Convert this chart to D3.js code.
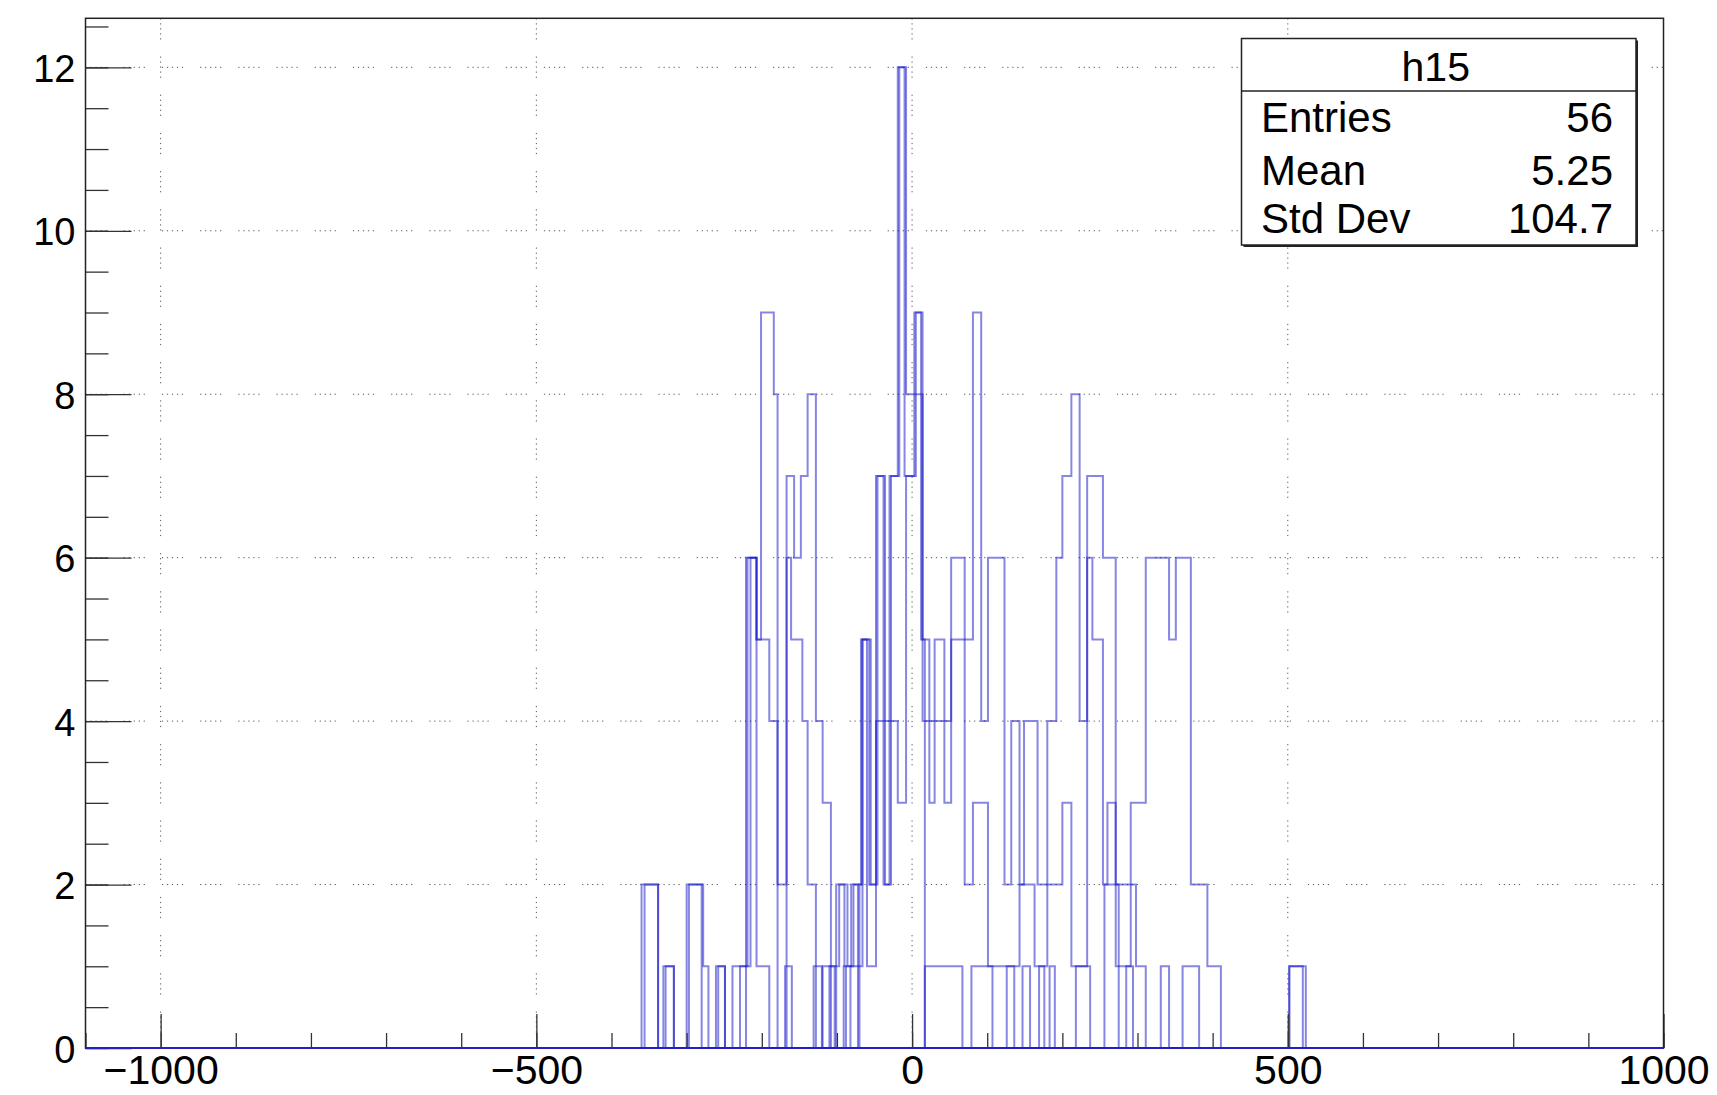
<!DOCTYPE html>
<html><head><meta charset="utf-8">
<script src="https://cdn.jsdelivr.net/npm/d3@7"></script>
<style>
body{margin:0;background:#fff;}
svg{display:block;}
text{font-family:"Liberation Sans",Arial,Helvetica,sans-serif;fill:#000;}
</style>
</head><body>
<svg id="chart" width="1717" height="1095"></svg>
<script>
// ---- axis setup ----
const xDomain = [-1100, 1000];
const yDomain = [0, 12.6];
const xMajorTicks = [-1000, -500, 0, 500, 1000];
const xMinorTicks = [-1100,-1000,-900,-800,-700,-600,-500,-400,-300,-200,-100,0,100,200,300,400,500,600,700,800,900,1000];
const yMajorTicks = [0, 2, 4, 6, 8, 10, 12];
const yMinorTicks = [0,0.5,1,1.5,2,2.5,3,3.5,4,4.5,5,5.5,6,6.5,7,7.5,8,8.5,9,9.5,10,10.5,11,11.5,12,12.5];

// ---- stats box ----
const statsTitle = "h15";
const statsLabels = ["Entries", "Mean", "Std Dev"];
const statsValues = ["56", "5.25", "104.7"];

// ---- histogram step outlines (bin edges and bin contents) ----
const edgesA = [-360,-338,-331,-317,-300,-278,-271,-261,-249,-239,-219,-207,-201,-184,-179,-167,-157,-148,-139,-128,-119,-108,-101,-86,-81,-68,-57,-48,-36,-30,-19,-8,3,14,23,30,43,52,70,81,92,101,123,132,143,149,167,180,192,200,212,223,233,254,271,291,311,342,351,371,393,411,502,524];
const countsA = [2,0,1,0,2,1,0,1,0,1,6,5,9,8,2,7,6,7,8,4,3,0,2,1,2,5,2,7,4,7,12,8,9,5,4,5,4,6,5,9,4,6,2,4,2,4,2,4,6,7,8,4,7,6,2,3,6,5,6,2,1,0,1];

const edgesB = [-356,-338,-328,-317,-297,-280,-258,-249,-229,-215,-207,-190,-179,-167,-161,-146,-139,-128,-119,-97,-90,-78,-72,-66,-60,-48,-36,-30,-19,-8,3,14,23,30,43,52,70,81,92,101,123,143,163,180,192,200,212,223,233,240,254,260,271,291,298,311,331,342,360,382];
const countsB = [2,0,1,0,2,0,1,0,1,6,5,4,0,6,5,4,2,0,1,2,1,2,1,5,1,4,2,4,3,7,8,4,3,4,3,5,2,3,3,1,1,2,1,2,2,3,1,1,6,5,2,3,1,2,1,0,1,0,1];

const edgesC = [-221,-207,-190,-169,-160,-131,-120,-110,-103,-91,-88,-82,-72,17,67,79,107,126,136,147,157,169,176,183,190,218,237,256,275,285,294,306];
const countsC = [6,1,0,1,0,1,0,1,0,1,0,1,0,1,0,1,0,1,0,1,0,1,0,1,0,1,0,2,0,1,0];

const edgesD = [-70,-66,-55,-46,-38,-28,-17,-10,5,12,17];
const countsD = [2,5,2,7,2,7,12,7,9,5];

const edgesE = [502,520];
const countsE = [1];

const series = [[edgesA, countsA], [edgesB, countsB], [edgesC, countsC], [edgesD, countsD], [edgesE, countsE]];

// ---- layout ----
const svg = d3.select("#chart");
const x = d3.scaleLinear().domain(xDomain).range([85.5, 1663.5]);
const y = d3.scaleLinear().domain(yDomain).range([1048, 18.3]);

// grid
const gridDash = "1.2,3.8,1.2,3.8,1.2,3.8,1.2,3.8,1.2,17";
const grid = svg.append("g").attr("stroke", "#555").attr("stroke-width", 1).attr("stroke-dasharray", gridDash);
grid.selectAll(".gx").data(xMajorTicks).join("line")
  .attr("x1", d => x(d)).attr("x2", d => x(d)).attr("y1", y(yDomain[1])).attr("y2", y(0));
grid.selectAll(".gy").data(yMajorTicks).join("line")
  .attr("x1", x(xDomain[0])).attr("x2", x(xDomain[1])).attr("y1", d => y(d)).attr("y2", d => y(d));

// histograms
function stepPoints(edges, counts) {
  const pts = [[xDomain[0], 0], [edges[0], 0]];
  counts.forEach((c, i) => { pts.push([edges[i], c]); pts.push([edges[i + 1], c]); });
  pts.push([edges[edges.length - 1], 0]);
  pts.push([xDomain[1], 0]);
  return pts;
}
const line = d3.line().x(d => x(d[0])).y(d => y(d[1]));
svg.append("g").selectAll("path").data(series).join("path")
  .attr("d", d => line(stepPoints(d[0], d[1])))
  .attr("fill", "none")
  .attr("stroke", "#1010c8")
  .attr("stroke-opacity", 0.5)
  .attr("stroke-width", 2);

// ticks
const tickColor = "#333";
function styleTicks(g) { g.select(".domain").remove(); g.selectAll("line").attr("stroke", tickColor).attr("stroke-width", 1.3); g.selectAll("text").remove(); }
svg.append("g").attr("transform", `translate(${x(xDomain[0])},0)`)
  .call(d3.axisRight(y).tickValues(yMajorTicks).tickSize(46)).call(styleTicks);
svg.append("g").attr("transform", `translate(${x(xDomain[0])},0)`)
  .call(d3.axisRight(y).tickValues(yMinorTicks).tickSize(23)).call(styleTicks);
svg.append("g").attr("transform", `translate(0,${y(0)})`)
  .call(d3.axisTop(x).tickValues(xMajorTicks).tickSize(34)).call(styleTicks);
svg.append("g").attr("transform", `translate(0,${y(0)})`)
  .call(d3.axisTop(x).tickValues(xMinorTicks).tickSize(15)).call(styleTicks);

// labels
const yLab = svg.append("g").attr("transform", `translate(${x(xDomain[0])},0)`)
  .call(d3.axisLeft(y).tickValues(yMajorTicks).tickSize(0).tickPadding(10));
yLab.select(".domain").remove();
yLab.selectAll("text").attr("font-size", 38).attr("font-family", '"Liberation Sans", Arial, sans-serif').attr("fill", "#000").attr("dy", "0.37em");

const fmtX = d => d < 0 ? "\u2212" + Math.abs(d) : String(d);
const xLab = svg.append("g").attr("transform", `translate(0,${y(0)})`)
  .call(d3.axisBottom(x).tickValues(xMajorTicks).tickSize(0).tickPadding(7).tickFormat(fmtX));
xLab.select(".domain").remove();
xLab.selectAll("text").attr("font-size", 41).attr("font-family", '"Liberation Sans", Arial, sans-serif').attr("fill", "#000");

// frame
svg.append("rect")
  .attr("x", x(xDomain[0])).attr("y", y(yDomain[1]))
  .attr("width", x(xDomain[1]) - x(xDomain[0])).attr("height", y(0) - y(yDomain[1]))
  .attr("fill", "none").attr("stroke", "#222").attr("stroke-width", 1.5);
// histogram baseline drawn over the frame bottom
svg.append("line").attr("x1", x(xDomain[0])).attr("x2", x(xDomain[1])).attr("y1", y(0)).attr("y2", y(0))
  .attr("stroke", "#2020c0").attr("stroke-width", 2.2);

// stats box
const sb = {x0: 1241.5, y0: 38.5, x1: 1636, y1: 245, sep: 91};
svg.append("rect").attr("x", sb.x0 + 2).attr("y", sb.y0 + 2).attr("width", sb.x1 - sb.x0).attr("height", sb.y1 - sb.y0).attr("fill", "#222");
svg.append("rect").attr("x", sb.x0).attr("y", sb.y0).attr("width", sb.x1 - sb.x0).attr("height", sb.y1 - sb.y0)
  .attr("fill", "#fff").attr("stroke", "#222").attr("stroke-width", 1.5);
svg.append("line").attr("x1", sb.x0).attr("x2", sb.x1).attr("y1", sb.sep).attr("y2", sb.sep).attr("stroke", "#222").attr("stroke-width", 1.5);
svg.append("text").attr("x", (sb.x0 + sb.x1) / 2 - 3).attr("y", 80.5).attr("text-anchor", "middle").attr("font-size", 41).text(statsTitle);
const rowY = [131.5, 185, 233];
svg.append("g").selectAll("text").data(statsLabels).join("text")
  .attr("x", 1261).attr("y", (d, i) => rowY[i]).attr("font-size", 42).text(d => d);
svg.append("g").selectAll("text").data(statsValues).join("text")
  .attr("x", 1613).attr("y", (d, i) => rowY[i]).attr("font-size", 42).attr("text-anchor", "end").text(d => d);
</script>
</body></html>
